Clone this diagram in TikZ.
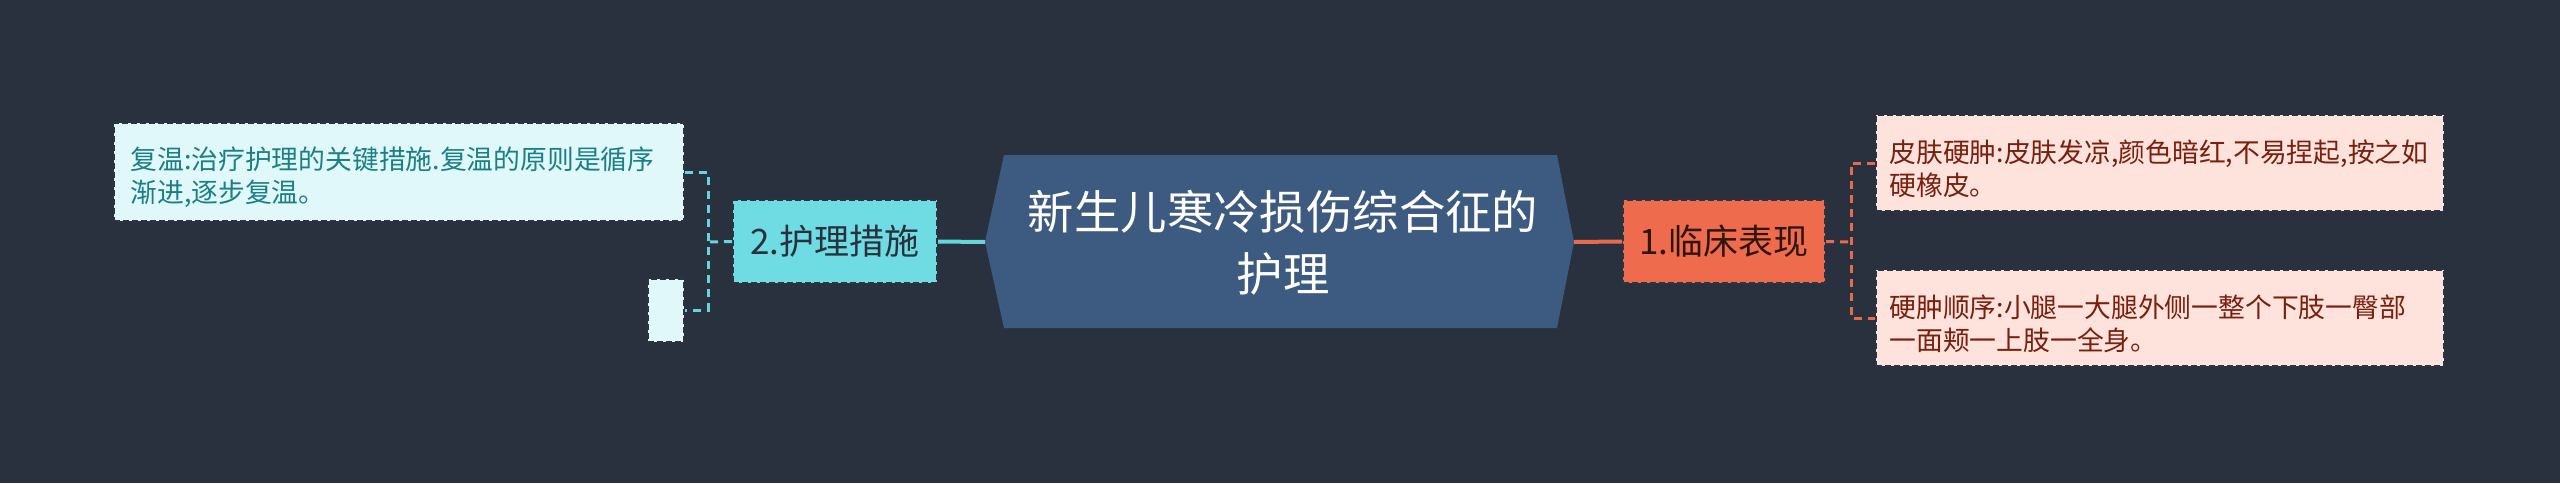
\documentclass[tikz,border=0pt]{standalone}
\usepackage{fontspec}
\setmainfont{Noto Sans CJK SC}
\definecolor{bgc}{HTML}{29313F}
\definecolor{hubc}{HTML}{3D5B80}
\definecolor{coralc}{HTML}{EF6B4D}
\definecolor{cyanc}{HTML}{6EDCE2}
\definecolor{cyanline}{HTML}{66D6DD}
\definecolor{coralline}{HTML}{E9694C}
\definecolor{lcfill}{HTML}{E0F8F9}
\definecolor{lctext}{HTML}{1B7F86}
\definecolor{rcfill}{HTML}{FDE3DC}
\definecolor{rctext}{HTML}{7A1E0E}
\definecolor{edgec}{HTML}{2B3443}
\begin{document}
\begin{tikzpicture}[x=0.5pt,y=-0.5pt,
  branchbox/.style={draw=edgec, dash pattern=on 3pt off 1.5pt, line width=1pt, inner sep=0pt,
    minimum height=41.5pt, font=\fontsize{17.5}{20}\selectfont},
  leafbox/.style={draw=edgec, dash pattern=on 3pt off 1.5pt, line width=1pt, inner sep=0pt},
  leaftext/.style={inner sep=0pt, align=left, font=\fontsize{13.4}{16.5}\selectfont},
  solidlink/.style={line width=2pt},
  dashlink/.style={line width=1.5pt, dash pattern=on 4pt off 3pt}]
\fill[bgc] (0,0) rectangle (2560,483);
\useasboundingbox (0,0) rectangle (2560,483);
% central hexagon
\fill[hubc] (985,242) -- (1004,155) -- (1557,155) -- (1574,242) -- (1557,328) -- (1004,328) -- cycle;
\coordinate (hl) at (985,242);
\coordinate (hr) at (1574,242);
\node[font=\fontsize{23.2}{31}\selectfont, text=white, align=center] (hub) at (1283,243) {新生儿寒冷损伤综合征的\\护理};
% branches
\node[branchbox, fill=coralc, text=black!80!coralc, minimum width=101pt] (b1) at (1724,241.5) {1.临床表现};
\node[branchbox, fill=cyanc, text=bgc, minimum width=102pt] (b2) at (835,241.5) {2.护理措施};
% right leaves
\node[leafbox, fill=rcfill, minimum width=284pt, minimum height=48pt] (l1) at (2160,163) {};
\node[leaftext, text=rctext, text width=272pt, anchor=west] (l1t) at ([xshift=7pt,yshift=-3pt]l1.west)
  {皮肤硬肿:皮肤发凉,颜色暗红,不易捏起,按之如\\硬橡皮。};
\node[leafbox, fill=rcfill, minimum width=284pt, minimum height=48pt] (l2) at (2160,318) {};
\node[leaftext, text=rctext, text width=272pt, anchor=west] (l2t) at ([xshift=7pt,yshift=-3pt]l2.west)
  {硬肿顺序:小腿一大腿外侧一整个下肢一臀部\\一面颊一上肢一全身。};
% left leaves
\node[leafbox, fill=lcfill, minimum width=285pt, minimum height=49pt] (lb) at (399,172) {};
\node[leaftext, text=lctext, text width=272pt, anchor=west] (lbt) at ([xshift=8.5pt,yshift=-2.5pt]lb.west)
  {复温:治疗护理的关键措施.复温的原则是循序\\渐进,逐步复温。};
\node[leafbox, fill=lcfill, minimum width=18pt, minimum height=31.5pt] (sb) at (666,310) {};
% connectors
\coordinate (rj) at (1851,242);
\coordinate (lj) at (708,242);
\draw[coralline, solidlink] (hr) -- (b1.west);
\draw[cyanline, solidlink] (hl) -- (b2.east);
\draw[coralline, dashlink] (b1.east) -- (rj);
\draw[coralline, dashlink] (l1.west) -| (rj) |- (l2.west);
\draw[cyanline, dashlink] (b2.west) -- (lj);
\draw[cyanline, dashlink] (lb.east) -| (lj) |- (sb.east);
\end{tikzpicture}
\end{document}
